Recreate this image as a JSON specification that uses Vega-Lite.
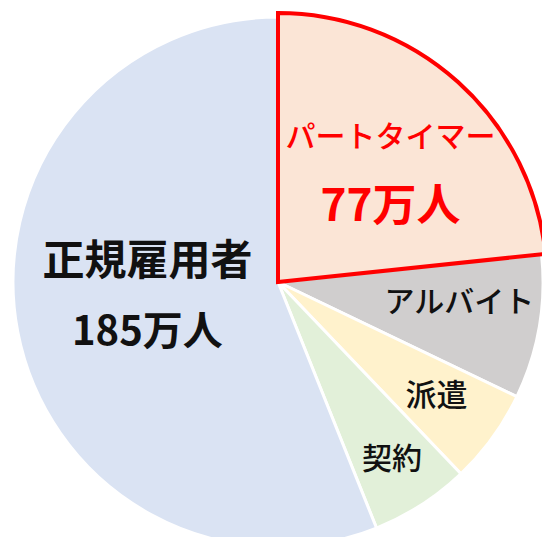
{
  "$schema": "https://vega.github.io/schema/vega-lite/v6.json",
  "width": 528,
  "height": 510,
  "autosize": "none",
  "padding": {"left": 14, "top": 27, "right": 0, "bottom": 0},
  "background": "white",
  "config": {"view": {"stroke": null}, "text": {"font": "Noto Sans CJK JP"}},
  "data": {
    "values": [
      {"cat": "パートタイマー", "value": 77, "amount": "77万人"},
      {"cat": "アルバイト", "value": 29, "amount": "29万人"},
      {"cat": "派遣", "value": 19, "amount": "19万人"},
      {"cat": "契約", "value": 20, "amount": "20万人"},
      {"cat": "正規雇用者", "value": 185, "amount": "185万人"}
    ]
  },
  "transform": [{"window": [{"op": "row_number", "as": "idx"}]}],
  "layer": [
    {
      "mark": {"type": "arc", "radius": 265, "stroke": "white", "strokeWidth": 3},
      "encoding": {
        "theta": {"field": "value", "type": "quantitative", "stack": true},
        "order": {"field": "idx", "type": "quantitative"},
        "color": {
          "field": "cat",
          "type": "nominal",
          "scale": {
            "domain": ["パートタイマー", "アルバイト", "派遣", "契約", "正規雇用者"],
            "range": ["#FBE5D6", "#D0CECE", "#FFF2CC", "#E2F0D9", "#DAE3F3"]
          },
          "legend": null
        }
      }
    },
    {
      "mark": {"type": "arc", "radius": 269, "fill": "#FBE5D6", "stroke": "#FF0000", "strokeWidth": 4, "strokeJoin": "miter"},
      "encoding": {
        "theta": {"field": "value", "type": "quantitative", "stack": true},
        "order": {"field": "idx", "type": "quantitative"},
        "detail": {"field": "cat", "type": "nominal"},
        "opacity": {"condition": {"test": "datum.cat === 'パートタイマー'", "value": 1}, "value": 0}
      }
    },
    {
      "mark": {"type": "text", "radius": 168, "dy": -19, "fontSize": 30, "fontWeight": 500, "fill": "#FF0000", "align": "center", "baseline": "middle"},
      "encoding": {
        "theta": {"field": "value", "type": "quantitative", "stack": true},
        "order": {"field": "idx", "type": "quantitative"},
        "detail": {"field": "cat", "type": "nominal"},
        "text": {"field": "cat", "type": "nominal"},
        "opacity": {"condition": {"test": "datum.cat === 'パートタイマー'", "value": 1}, "value": 0}
      }
    },
    {
      "mark": {"type": "text", "radius": 168, "dy": 51, "fontSize": 44, "fontWeight": "bold", "fill": "#FF0000", "align": "center", "baseline": "middle"},
      "encoding": {
        "theta": {"field": "value", "type": "quantitative", "stack": true},
        "order": {"field": "idx", "type": "quantitative"},
        "detail": {"field": "cat", "type": "nominal"},
        "text": {"field": "amount", "type": "nominal"},
        "opacity": {"condition": {"test": "datum.cat === 'パートタイマー'", "value": 1}, "value": 0}
      }
    },
    {
      "mark": {"type": "text", "radius": 184, "dy": -10, "fontSize": 30, "fontWeight": 500, "fill": "#111111", "align": "center", "baseline": "middle"},
      "encoding": {
        "theta": {"field": "value", "type": "quantitative", "stack": true},
        "order": {"field": "idx", "type": "quantitative"},
        "detail": {"field": "cat", "type": "nominal"},
        "text": {"field": "cat", "type": "nominal"},
        "opacity": {"condition": {"test": "datum.cat === 'アルバイト'", "value": 1}, "value": 0}
      }
    },
    {
      "mark": {"type": "text", "radius": 196, "fontSize": 31, "fontWeight": 500, "fill": "#111111", "align": "center", "baseline": "middle"},
      "encoding": {
        "theta": {"field": "value", "type": "quantitative", "stack": true},
        "order": {"field": "idx", "type": "quantitative"},
        "detail": {"field": "cat", "type": "nominal"},
        "text": {"field": "cat", "type": "nominal"},
        "opacity": {"condition": {"test": "datum.cat === '派遣'", "value": 1}, "value": 0}
      }
    },
    {
      "mark": {"type": "text", "radius": 211, "fontSize": 30, "fontWeight": 500, "fill": "#111111", "align": "center", "baseline": "middle"},
      "encoding": {
        "theta": {"field": "value", "type": "quantitative", "stack": true},
        "order": {"field": "idx", "type": "quantitative"},
        "detail": {"field": "cat", "type": "nominal"},
        "text": {"field": "cat", "type": "nominal"},
        "opacity": {"condition": {"test": "datum.cat === '契約'", "value": 1}, "value": 0}
      }
    },
    {
      "mark": {"type": "text", "radius": 133, "dy": -45, "fontSize": 42, "fontWeight": "bold", "fill": "#111111", "align": "center", "baseline": "middle"},
      "encoding": {
        "theta": {"field": "value", "type": "quantitative", "stack": true},
        "order": {"field": "idx", "type": "quantitative"},
        "detail": {"field": "cat", "type": "nominal"},
        "text": {"field": "cat", "type": "nominal"},
        "opacity": {"condition": {"test": "datum.cat === '正規雇用者'", "value": 1}, "value": 0}
      }
    },
    {
      "mark": {"type": "text", "radius": 133, "dy": 26, "fontSize": 40, "fontWeight": "bold", "fill": "#111111", "align": "center", "baseline": "middle"},
      "encoding": {
        "theta": {"field": "value", "type": "quantitative", "stack": true},
        "order": {"field": "idx", "type": "quantitative"},
        "detail": {"field": "cat", "type": "nominal"},
        "text": {"field": "amount", "type": "nominal"},
        "opacity": {"condition": {"test": "datum.cat === '正規雇用者'", "value": 1}, "value": 0}
      }
    }
  ]
}
